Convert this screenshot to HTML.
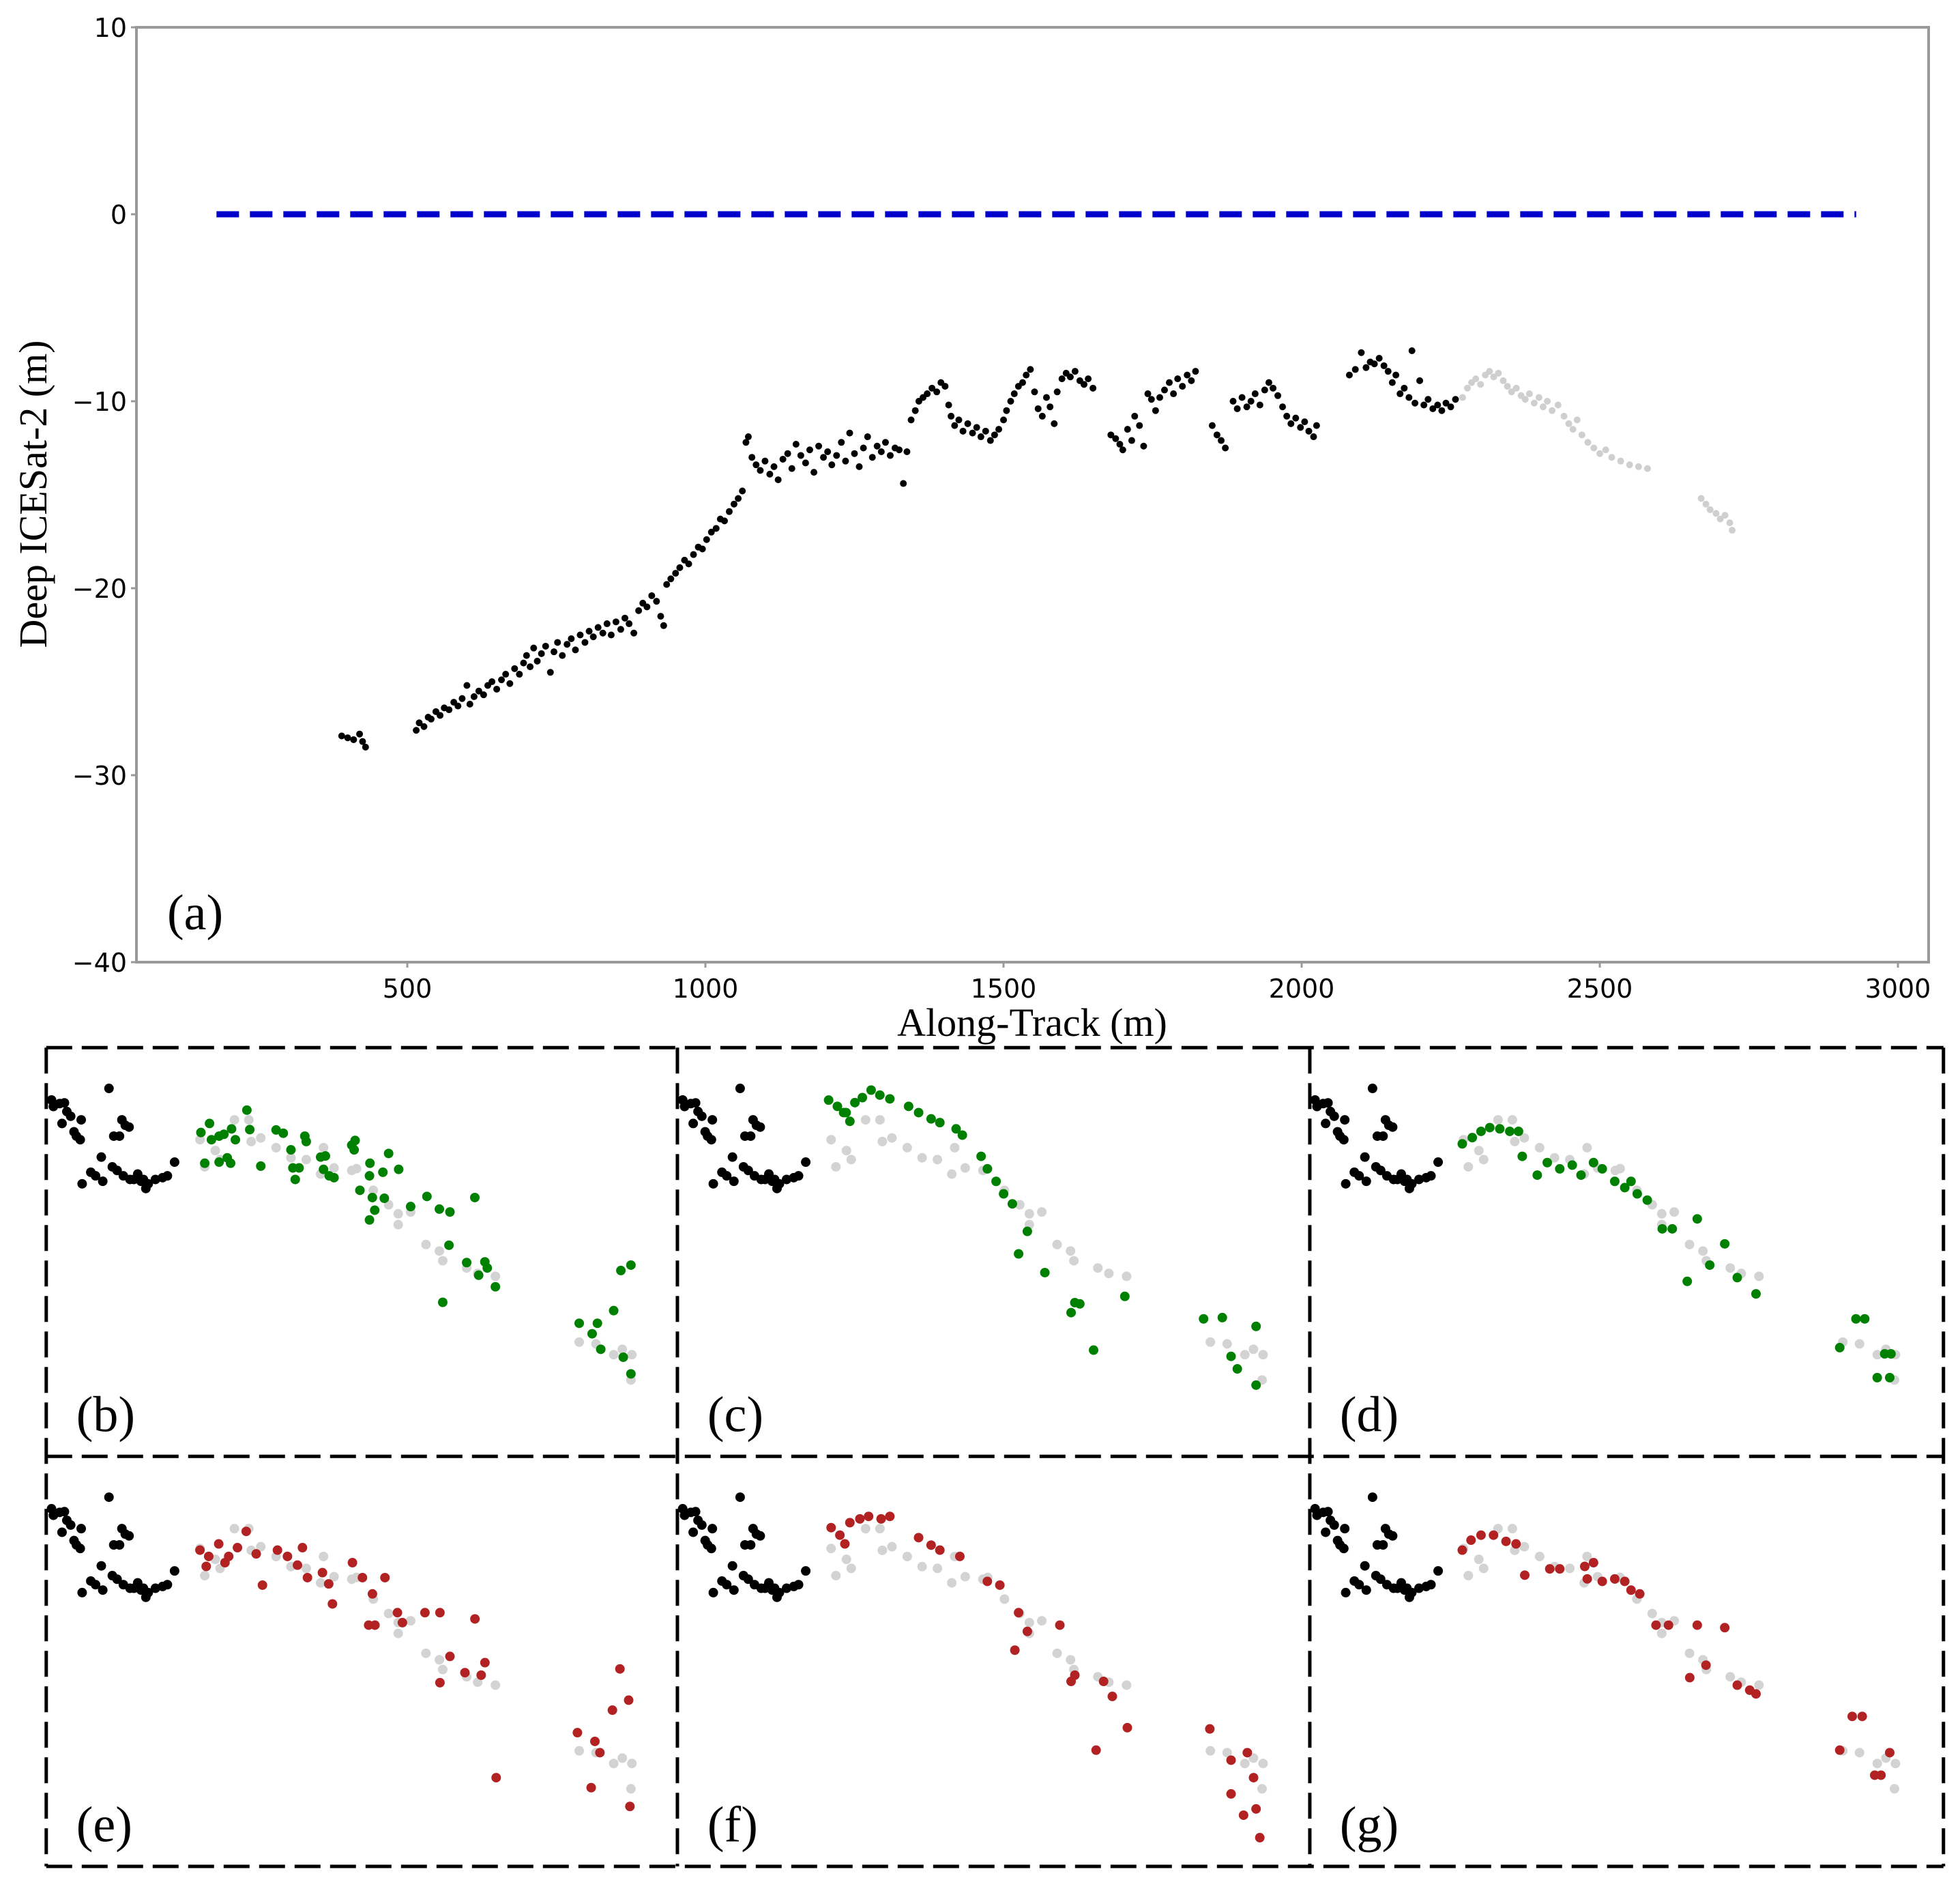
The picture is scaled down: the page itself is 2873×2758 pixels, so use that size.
<!DOCTYPE html>
<html><head><meta charset="utf-8"><style>
html,body{margin:0;padding:0;background:#fff}
svg{display:block}
.tk{font-family:"DejaVu Sans",sans-serif;font-size:38px;fill:#000}
.ttl{font-family:"Liberation Serif",serif;font-size:58px;fill:#000}
.pl{font-family:"Liberation Serif",serif;font-size:74px;fill:#000}
</style></head><body>
<svg id="fig" width="2873" height="2758" viewBox="0 0 2873 2758" xmlns="http://www.w3.org/2000/svg">
<g id="main"></g>
<g id="panels"></g>
</svg>
<script>
// ---- main chart data ----
const xTicks=[500,1000,1500,2000,2500,3000];
const yTicks=[10,0,-10,-20,-30,-40];
const blackX=[390,400,410,420,430,425,515,520,528,535,540,548,555,562,570,578,585,592,600,605,612,620,628,635,642,650,658,665,672,680,688,695,700,706,712,718,725,732,740,746,752,760,768,775,782,790,798,805,812,820,828,835,842,850,858,865,872,880,888,895,902,910,918,925,930,935,942,950,957,965,972,980,988,995,1002,1010,1018,1025,1032,1040,1048,1055,1062,1068,1072,1078,1085,1092,1100,1108,1115,1122,1130,1138,1145,1152,1160,1168,1175,1182,1190,1198,1205,1212,1220,1228,1235,1242,1250,1258,1265,1272,1280,1288,1295,1302,1310,1318,1325,1332,1338,1345,1352,1358,1365,1372,1380,1388,1395,1402,1408,1412,1418,1425,1432,1440,1448,1455,1462,1470,1478,1485,1492,1500,1505,1512,1518,1525,1532,1538,1545,1552,1558,1565,1572,1578,1585,1590,1598,1605,1612,1620,1628,1635,1642,1650,1680,1688,1695,1700,1708,1715,1720,1728,1735,1742,1748,1755,1762,1770,1778,1785,1792,1800,1808,1815,1822,1850,1858,1865,1872,1885,1892,1900,1908,1915,1922,1930,1938,1945,1952,1960,1968,1975,1982,1990,1998,2005,2012,2020,2025,2080,2090,2100,2108,2115,2122,2130,2138,2145,2152,2158,2165,2172,2180,2185,2190,2198,2205,2212,2220,2228,2235,2242,2250,2258];
const blackY=[-27.9,-28.0,-28.1,-27.8,-28.5,-28.2,-27.6,-27.2,-27.4,-26.9,-27.0,-26.6,-26.8,-26.4,-26.5,-26.1,-26.3,-25.9,-25.2,-26.2,-25.8,-25.5,-25.7,-25.2,-25.0,-25.4,-24.9,-24.6,-25.1,-24.3,-24.6,-24.0,-23.6,-24.2,-23.2,-23.9,-23.5,-23.1,-24.5,-23.4,-22.9,-23.6,-23.0,-22.7,-23.3,-22.5,-22.9,-22.3,-22.6,-22.1,-22.4,-21.9,-22.5,-21.8,-22.2,-21.6,-21.9,-22.4,-21.2,-20.8,-21.0,-20.4,-20.7,-21.5,-22.0,-19.8,-19.5,-19.2,-18.9,-18.5,-18.7,-18.2,-17.8,-17.9,-17.4,-17.0,-16.8,-16.3,-16.4,-15.9,-15.5,-15.2,-14.8,-12.2,-11.9,-13.0,-13.4,-13.7,-13.2,-13.9,-13.5,-14.2,-13.1,-12.8,-13.6,-12.3,-12.9,-13.3,-12.6,-13.8,-12.4,-13.0,-12.7,-13.4,-12.9,-12.2,-13.2,-11.7,-12.8,-13.5,-12.5,-11.9,-13.0,-12.4,-12.7,-12.2,-12.9,-12.5,-12.6,-14.4,-12.7,-11.0,-10.5,-10.0,-9.8,-9.6,-9.3,-9.5,-9.0,-9.2,-10.2,-10.8,-11.3,-11.0,-11.6,-11.2,-11.7,-11.4,-11.9,-11.6,-12.1,-11.8,-11.5,-11.0,-10.5,-10.0,-9.6,-9.2,-9.0,-8.6,-8.3,-9.5,-10.4,-10.8,-9.8,-10.3,-11.2,-9.5,-8.8,-8.5,-8.7,-8.4,-8.9,-9.1,-8.8,-9.3,-11.8,-12.0,-12.3,-12.6,-11.5,-12.1,-10.8,-11.3,-12.4,-9.6,-9.9,-10.5,-9.8,-9.4,-9.0,-9.6,-8.8,-9.2,-8.6,-8.9,-8.4,-11.3,-11.8,-12.1,-12.5,-10.0,-10.4,-9.8,-10.3,-10.0,-9.6,-10.2,-9.4,-9.0,-9.3,-9.7,-10.3,-10.8,-11.2,-10.9,-11.4,-11.1,-11.6,-11.9,-11.3,-8.6,-8.3,-7.4,-8.2,-7.9,-8.0,-7.7,-8.1,-8.4,-9.0,-8.6,-9.6,-9.3,-9.8,-7.3,-10.1,-8.9,-10.2,-9.9,-10.4,-10.2,-10.5,-10.1,-10.3,-9.9];
const grayX=[2270,2278,2285,2292,2300,2308,2315,2322,2330,2338,2345,2352,2360,2368,2375,2382,2390,2398,2405,2412,2420,2430,2440,2448,2455,2462,2470,2480,2490,2500,2510,2520,2535,2550,2565,2580,2670,2678,2685,2695,2702,2710,2718,2722];
const grayY=[-9.8,-9.3,-9.0,-8.8,-9.1,-8.6,-8.4,-8.7,-8.5,-8.9,-9.2,-9.5,-9.3,-9.7,-9.9,-9.6,-10.1,-9.8,-10.3,-10.0,-10.5,-10.2,-10.8,-11.2,-11.5,-11.0,-11.8,-12.2,-12.5,-12.8,-12.6,-13.0,-13.2,-13.4,-13.5,-13.6,-15.2,-15.5,-15.8,-16.0,-16.3,-16.1,-16.5,-16.9];
const refLineX=[180,2930];
const refLineY=0;

// ---- detail panel data (panel-local units) ----
const pBlackX=[108,112,125,135,140,148,130,155,168,170,160,228,255,262,270,238,250,212,190,172,215,200,235,245,258,272,288,300,305,310,325,340,350,365,280,295];
const pBlackY=[580,598,590,588,612,625,645,668,690,635,680,548,635,650,655,680,680,738,780,812,805,790,765,775,790,800,785,800,825,812,800,795,790,752,800,805];
const pGrayX=[418,428,450,460,490,520,525,545,577,608,640,676,670,698,735,745,780,812,832,832,858,890,918,925,975,998,1035,1210,1245,1282,1300,1320,1318];
const pGrayY=[690,765,720,745,635,635,695,685,712,740,745,712,785,768,775,770,830,870,895,925,890,980,998,1025,1045,1060,1068,1250,1255,1285,1270,1285,1355];
const bX=[420,438,442,458,468,484,492,516,522,428,458,475,482,545,577,592,608,612,625,617,637,640,670,680,676,688,698,735,742,740,752,773,772,778,783,772,800,803,812,833,858,892,918,940,992,938,975,1000,1013,1018,1035,925,1210,1237,1248,1255,1282,1297,1318,1302,1318];
const bY=[670,645,690,680,675,660,690,608,662,755,752,740,755,763,663,672,718,768,768,800,680,695,738,735,772,790,795,705,692,718,830,755,790,850,885,912,780,852,728,772,875,847,882,890,850,982,1030,1065,1028,1045,1097,1140,1198,1227,1198,1270,1163,1052,1037,1292,1338];
const cX=[663,670,677,684,690,697,704,712,680,675,727,735,745,752,765,770,785,790,797,803,810,822,815,836,860,857,864,875,900,963,978,985,1005,990,1005];
const cY=[880,885,890,882,878,872,876,879,897,890,885,890,895,898,903,908,925,935,945,955,963,985,1003,1018,1042,1050,1043,1080,1037,1055,1054,1085,1061,1095,1108];
const dX=[1170,1178,1185,1192,1200,1208,1215,1218,1230,1238,1248,1258,1265,1275,1282,1292,1300,1305,1310,1318,1330,1338,1358,1380,1368,1350,1390,1405,1472,1485,1492,1508,1502,1512,1513];
const dY=[915,910,905,902,903,905,905,925,940,930,935,932,940,930,935,945,950,945,955,960,983,983,975,995,1012,1025,1022,1035,1078,1055,1055,1083,1102,1102,1083];
const eX=[160,167,175,183,190,197,205,210,165,180,222,230,238,246,242,258,263,266,282,290,298,300,295,308,318,322,340,352,352,360,372,380,388,385,397,462,476,480,490,496,503,473,504];
const eY=[1240,1245,1235,1245,1238,1225,1243,1268,1253,1250,1240,1245,1252,1262,1238,1258,1267,1283,1250,1262,1275,1300,1300,1262,1290,1298,1290,1290,1346,1325,1338,1295,1330,1340,1422,1386,1393,1402,1368,1335,1360,1430,1445];
const fX=[665,672,680,688,695,705,712,676,735,745,752,768,790,800,815,822,812,848,860,857,883,890,877,902,968,985,998,1003,1005,985,995,1008];
const fY=[1222,1228,1218,1215,1213,1215,1213,1235,1230,1236,1240,1245,1265,1268,1290,1305,1320,1300,1340,1345,1345,1357,1400,1382,1383,1408,1402,1422,1447,1435,1452,1470];
const gX=[1170,1177,1185,1195,1205,1213,1220,1240,1248,1268,1275,1270,1282,1292,1300,1305,1312,1325,1335,1358,1380,1352,1365,1390,1400,1405,1482,1490,1472,1505,1512,1500];
const gY=[1240,1232,1228,1228,1233,1235,1260,1255,1255,1253,1250,1263,1265,1263,1265,1272,1275,1300,1300,1300,1302,1342,1332,1348,1352,1355,1373,1373,1400,1420,1402,1420];

const NS="http://www.w3.org/2000/svg";
function mk(tag,attrs,parent){const e=document.createElementNS(NS,tag);for(const k in attrs)e.setAttribute(k,attrs[k]);parent.appendChild(e);return e;}

const L=200,R=2827,T=40,B=1410;
const X0=160,XS=0.874;
const Y0=314,YS=27.4;
const sx=v=>X0+v*XS, sy=v=>Y0-v*YS;
const main=document.getElementById('main');
const frame=mk('rect',{x:L,y:T,width:R-L,height:B-T,fill:'none',stroke:'#999',"stroke-width":4},main);


xTicks.forEach(v=>{
  const t=mk('line',{x1:sx(v),x2:sx(v),y1:B,y2:B+8,stroke:'#999',"stroke-width":3},main);
  
  
  const s=mk('text',{x:sx(v),y:B+52,"text-anchor":"middle",class:'tk'},main);s.textContent=v;
  
  
});
yTicks.forEach(v=>{
  const t=mk('line',{x1:L-8,x2:L,y1:sy(v),y2:sy(v),stroke:'#999',"stroke-width":3},main);
  
  
  const s=mk('text',{x:L-14,y:sy(v)+14,"text-anchor":"end",class:'tk'},main);s.textContent=(v<0?'\u2212'+(-v):v);
  
  
});
const ref=mk('line',{x1:sx(refLineX[0]),x2:sx(refLineX[1]),y1:sy(refLineY),y2:sy(refLineY),stroke:'#0000cc',"stroke-width":9,"stroke-dasharray":"33 16"},main);


grayX.forEach((v,i)=>{
  const c=mk('circle',{cx:sx(v),cy:sy(grayY[i]),r:5,fill:'#cfcfcf'},main);
  
  
});
blackX.forEach((v,i)=>{
  const c=mk('circle',{cx:sx(v),cy:sy(blackY[i]),r:5,fill:'#000'},main);
  
  
});
const xl=mk('text',{x:1513,y:1518,"text-anchor":"middle",class:'ttl'},main);xl.textContent='Along-Track (m)';


const yl=mk('text',{x:0,y:0,"text-anchor":"middle",class:'ttl',transform:'translate(68,724) rotate(-90)'},main);yl.textContent='Deep ICESat-2 (m)';


const la=mk('text',{x:245,y:1362,class:'pl'},main);la.textContent='(a)';



const K=1.832;
const pan=document.getElementById('panels');
const cols=[[37,542],[542,1048],[1048,1555]];
const rows=[[838,1165],[1165,1493]];
const panelDefs=[
 {n:'b',c:0,r:0,col:'#008000',xs:bX,ys:bY,zoom:true},
 {n:'c',c:1,r:0,col:'#008000',xs:cX,ys:cY},
 {n:'d',c:2,r:0,col:'#008000',xs:dX,ys:dY},
 {n:'e',c:0,r:1,col:'#b22222',xs:eX,ys:eY},
 {n:'f',c:1,r:1,col:'#b22222',xs:fX,ys:fY},
 {n:'g',c:2,r:1,col:'#b22222',xs:gX,ys:gY}];
panelDefs.forEach(p=>{
  const x0=cols[p.c][0], y0=rows[p.r][0];
  const g=mk('g',{},pan);
  
  
  const zx=v=>(x0+(v-97)/2.61)*K, zy=v=>(y0+(v-435)/3.46)*K;
  pGrayX.forEach((v,i)=>{
    const c=mk('circle',{cx:zx(v),cy:zy(pGrayY[i]),r:7,fill:'#d3d3d3'},g);
    
    
  });
  pBlackX.forEach((v,i)=>{
    const c=mk('circle',{cx:zx(v),cy:zy(pBlackY[i]),r:7,fill:'#000'},g);
    
    
  });
  p.xs.forEach((v,i)=>{
    const cx=p.zoom?zx(v):v*K, cy=p.zoom?zy(p.ys[i]):p.ys[i]*K;
    const c=mk('circle',{cx:cx,cy:cy,r:7,fill:p.col},g);
    
    
  });
  const t=mk('text',{x:(x0+24)*K,y:(rows[p.r][1]-20)*K,class:'pl'},g);t.textContent='('+p.n+')';
  
  
});
const dash={stroke:'#000',"stroke-width":5,"stroke-dasharray":"38 14",fill:'none'};
const lines=[[37,838,1555,838],[37,1165,1555,1165],[37,1493,1555,1493],[37,838,37,1493],[542,838,542,1493],[1048,838,1048,1493],[1555,838,1555,1493]];
lines.forEach(l=>{
  const e=mk('line',Object.assign({x1:l[0]*K,y1:l[1]*K,x2:l[2]*K,y2:l[3]*K},dash),pan);
  
  
});
</script>
</body></html>
